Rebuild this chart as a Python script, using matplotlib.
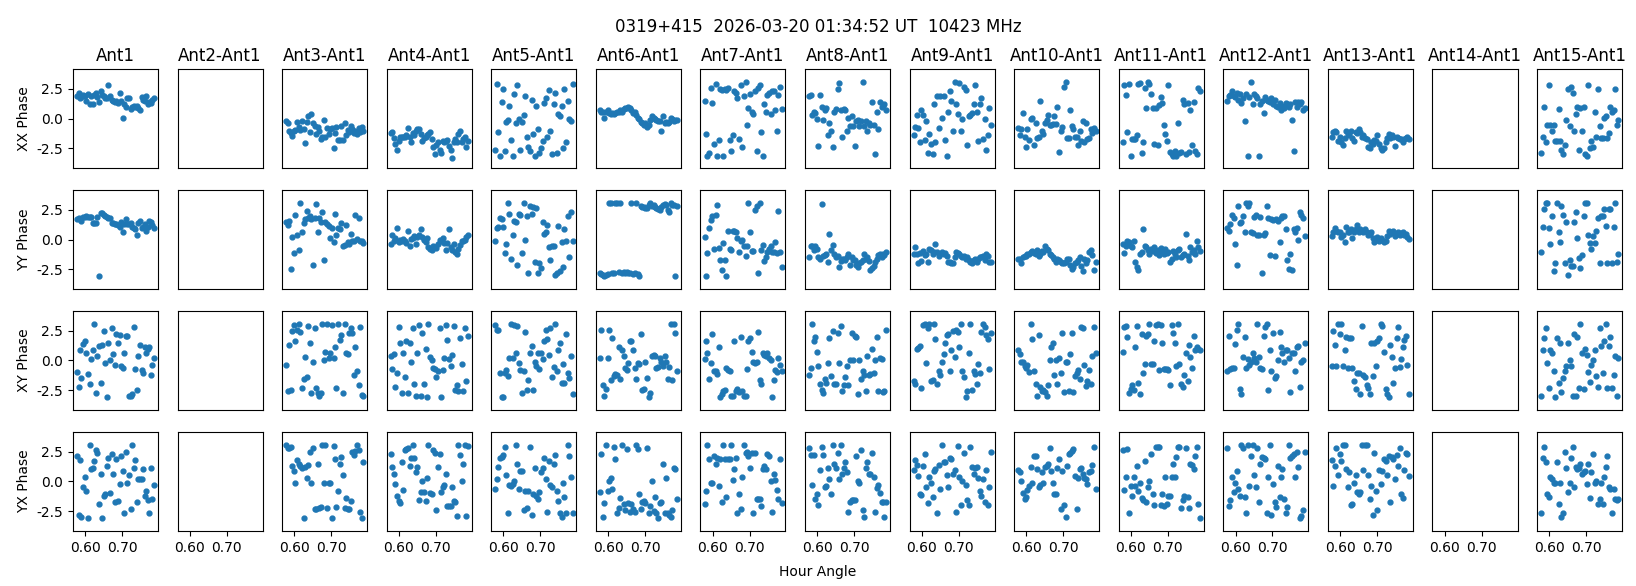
import matplotlib
matplotlib.use("Agg")
import matplotlib.pyplot as plt
from matplotlib.ticker import FormatStrFormatter

TITLE = "0319+415  2026-03-20 01:34:52 UT  10423 MHz"
antennas = list(range(1, 16))
pols = ["XX", "YY", "XY", "YX"]

# hour angle of each sample (same for all baselines)
hour_angle = [0.578, 0.582, 0.586, 0.590, 0.595, 0.599, 0.603, 0.608, 0.612, 0.616,
              0.620, 0.625, 0.629, 0.633, 0.637, 0.642, 0.646, 0.650, 0.655, 0.659,
              0.663, 0.667, 0.672, 0.676, 0.680, 0.684, 0.689, 0.693, 0.697, 0.701,
              0.706, 0.710, 0.714, 0.719, 0.723, 0.727, 0.731, 0.736, 0.740, 0.744,
              0.748, 0.753, 0.757, 0.761, 0.765, 0.770, 0.774, 0.778, 0.782, 0.787]

# phases (rad) per antenna, Ant2 and Ant14 have no data
xx_phase = {
    1: [1.9, 2.2, 1.7, 1.8, 2.0, 1.9, 1.5, 2.1, 1.2, 1.9, 1.2, 2.0, 2.2, 1.8, 1.4, 2.3, 2.0, 1.9, 1.7, 1.7,
        2.8, 1.9, 1.6, 1.5, 1.4, 1.5, 1.3, 2.2, 1.5, 0.1, 1.2, 1.0, 1.7, 1.7, 0.8, 1.0, 1.1, 1.0, 1.1, 0.9,
        0.75, 1.8, 1.6, 1.5, 1.9, 1.2, 1.4, 1.3, 1.6, 1.7],
    3: [-0.22, -0.39, -1.0, -1.2, -1.47, -1.06, -0.97, -0.28, -0.69, -0.97, -0.17, -0.86, -2.03, -0.28, 0.25,
        -1.1, 0.42, -0.36, -0.58, -1.33, -0.72, -1.0, -1.67, -1.56, -0.08, -1.5, -0.78, -1.28, -0.86, -0.78,
        -2.5, -1.2, -0.72, -1.83, -1.83, -0.58, -1.78, -0.36, -1.39, -0.92, -1.1, -0.6, -0.9, -1.2, -1.0,
        -1.3, -0.8, -1.1, -0.7, -1.0],
    4: [-1.2, -1.1, -1.6, -2.1, -2.6, -1.9, -1.5, -1.5, -1.5, -1.5, -1.4, -0.8, -1.5, -2.0, -1.2, -1.4, -1.0,
        -0.9, -0.9, -1.3, -1.9, -1.6, -1.5, -1.4, -1.3, -1.1, -1.7, -2.4, -3.0, -2.2, -2.0, -2.6, -2.9, -1.9,
        -2.0, -1.9, -1.8, -2.3, -2.6, -3.3, -2.0, -1.7, -2.0, -1.3, -1.0, -2.0, -1.7, -1.5, -2.4, -1.9],
    5: [-2.6, 2.9, -1.1, -3.1, 1.4, 2.5, -2.7, -0.3, -0.1, 1.1, -1.8, -3.1, 2.1, -0.4, 2.8, 0.0, -2.6, -0.3,
        0.3, 1.9, -1.5, -2.4, -2.7, 1.6, -1.3, -3.1, 1.1, -0.9, -2.9, -2.5, -1.9, 1.3, 1.7, -1.5, 2.4, -1.0,
        -3.0, 1.25, 2.2, -2.9, 0.4, 0.2, 1.1, -2.5, 2.5, -2.0, 1.5, 0.0, -0.2, 2.9],
    6: [0.7, 0.6, 0.6, 0.1, 0.6, 0.7, 0.5, 0.4, 0.5, 0.4, 0.5, 0.6, 0.6, 0.7, 0.6, 0.8, 0.9, 0.9, 1.0, 0.9,
        0.7, 0.5, 0.6, 0.3, 0.1, 0.0, -0.3, -0.4, -0.5, -0.4, -0.7, -0.5, -0.1, 0.2, 0.1, 0.0, -0.1, -0.2,
        -0.2, -1.0, 0.2, -0.4, -0.3, -0.4, -0.3, 0.1, 0.0, -0.2, -0.1, -0.1],
    7: [1.5, -1.3, -3.1, -2.9, 2.6, 1.3, -2.1, 2.9, -3.1, -1.8, 2.5, 2.4, -3.1, 2.5, 2.4, 2.6, -1.8, -2.7,
        -1.4, 2.3, 2.2, 1.7, -1.7, 2.8, -2.4, 1.9, 3.1, -0.5, 0.9, 2.1, 0.6, 0.4, 2.3, -2.7, 2.6, 2.8, -1.1,
        -3.1, 1.2, 0.6, 2.0, 2.2, 0.4, 2.3, 2.3, 0.7, -1.05, 2.0, 2.7, 0.8],
    8: [1.9, 2.0, 0.3, 0.6, 0.5, 0.0, -2.3, 2.0, 1.0, -0.1, 0.75, 0.9, -1.4, -0.4, -1.0, -2.4, 0.6, 0.8,
        2.5, 3.0, 0.7, -1.55, 0.8, 0.7, -1.05, 0.05, -0.6, 0.2, -0.6, -2.3, -0.2, -0.1, -0.6, -0.2, 3.05,
        -0.6, -0.2, -1.0, -0.4, -0.5, 1.4, -0.5, -3.0, 0.6, -0.9, 1.4, 1.0, 1.1, 1.2, 0.75],
    9: [-1.4, -0.7, 0.3, -0.8, -2.0, 0.75, 0.3, -1.8, -0.2, -2.9, -1.25, -2.1, -3.0, 1.25, -2.0, 1.9, -0.8,
        1.9, 0.1, 1.95, -1.8, -3.1, 0.6, 2.3, 1.5, -1.0, 3.1, 1.2, 0.4, 3.0, -1.0, 0.0, 2.7, 2.4, -2.2, 0.2,
        0.3, 0.5, 1.2, 2.8, 0.55, -1.9, 1.2, 1.7, -1.7, 0.0, -2.6, -1.4, 0.9, -0.5],
    10: [-0.8, -1.4, -0.9, 0.5, -1.5, -2.4, -0.9, -1.8, 0.0, 0.05, -2.2, -0.35, -1.65, -1.55, 1.45, -1.05,
         -1.3, -0.35, -0.1, 0.3, -0.5, -0.5, -0.45, 0.2, -0.45, 1.0, -2.8, -1.05, -0.7, 2.7, 3.1, -1.65,
         -1.6, 0.7, -0.6, -0.9, -1.55, -1.55, -2.2, -1.0, -1.9, -0.2, -1.95, -0.35, -1.7, -1.65, -0.9, -1.2,
         -0.8, -1.05],
    11: [-2.0, 2.8, 2.0, -1.1, 2.9, -3.1, -1.75, -1.75, -1.75, -1.4, 2.9, 3.0, -2.85, -2.0, 2.55, 0.9, 3.1,
         2.9, 2.1, 0.9, -2.1, 0.9, -2.2, 1.15, 1.8, 1.3, -0.5, -1.25, -1.9, 2.8, -2.8, -3.0, -3.1, -2.7,
         -3.1, -0.4, -2.9, -2.8, 1.6, 1.2, -2.95, 1.3, -2.8, 0.75, -2.2, 1.4, -2.7, -3.0, 2.6, 2.3],
    12: [1.5, 1.9, 2.0, 2.3, 1.95, 1.8, 2.2, 1.6, 2.1, 1.3, 1.7, -0.2, 2.1, -3.1, 1.85, 3.05, 1.25, 2.1,
         1.95, 1.7, -3.1, 1.2, 1.5, 0.5, 1.8, 1.6, 1.45, 1.4, 1.7, 1.2, 1.6, 1.1, 0.95, 1.3, 0.75, 1.1, 0.9,
         1.3, 1.2, 1.0, 1.2, -0.1, -2.7, 1.4, 0.95, 1.4, 1.2, 1.4, 0.75, 0.9],
    13: [-1.55, -1.1, -1.05, -1.1, -1.9, -1.5, -2.0, -2.2, -1.65, -1.05, -1.3, -1.4, -1.0, -1.6, -1.85,
         -1.1, -1.2, -0.85, -1.1, -1.5, -1.4, -1.6, -1.75, -2.4, -2.5, -2.0, -2.15, -1.8, -1.9, -1.4, -2.15,
         -2.5, -2.65, -2.45, -2.0, -1.65, -1.3, -1.6, -1.4, -1.55, -2.3, -1.55, -1.65, -1.75, -1.7, -2.0,
         -1.75, -1.65, -1.55, -1.75],
    15: [-2.85, -1.5, 0.95, -2.0, -0.5, 2.85, -0.5, -1.05, -0.5, -1.9, -1.9, 0.85, -1.9, -2.6, -3.0, -2.2,
         -0.15, 2.5, -0.65, 2.7, 2.2, -1.05, 0.4, 1.0, -2.65, 0.9, -1.05, 0.95, -3.0, -3.1, 2.85, -2.5, -1.9,
         -2.4, 0.6, -1.5, 2.5, -0.65, -1.6, -1.6, 0.1, 0.2, -1.6, -1.2, 1.0, 0.6, 0.75, 2.5, -0.55, -0.1],
}

yy_phase = {
    1: [1.7, 1.8, 1.7, 1.6, 1.9, 1.9, 2.0, 1.9, 1.9, 1.9, 1.4, 1.4, 1.4, 1.9, -3.1, 2.2, 2.2, 2.1, 2.0,
        1.9, 1.8, 1.8, 1.4, 1.4, 1.3, 1.3, 1.2, 1.1, 1.5, 0.6, 1.3, 1.7, 1.3, 1.3, 1.4, 1.1, 1.0, 0.9,
        0.35, 1.4, 1.6, 1.0, 1.1, 1.35, 0.75, 1.1, 1.6, 1.5, 1.2, 0.95],
    3: [1.5, 1.2, 1.6, -2.5, 0.2, -1.15, 2.1, 0.4, -0.85, 3.1, 0.65, 1.4, 1.7, 2.4, 1.8, 2.0, 1.7, -2.1,
        1.85, 3.0, 0.65, 1.85, 1.45, 2.3, -1.75, 1.5, 1.3, 1.15, 0.1, 1.0, -0.2, 2.15, 0.4, 0.95, 0.9, 1.4,
        -0.55, -0.45, 1.2, -0.2, -0.35, 0.5, -0.15, -0.15, 2.1, 0.05, 1.85, -0.1, -0.15, -0.3],
    4: [-0.35, 0.4, -0.1, 0.1, 1.0, -0.2, 0.0, -0.15, 0.05, -0.15, -0.25, 0.75, -0.5, 0.05, 0.1, 0.3, -0.4,
        0.2, 0.4, 0.85, 0.2, 0.0, -0.2, 0.1, -0.6, -0.8, -0.9, -0.5, -0.65, -0.7, -0.4, 0.0, -0.1, 0.1,
        -0.3, -0.9, -0.3, 0.85, -0.65, -0.9, -0.35, -1.05, -1.2, -0.8, -0.45, -0.1, -0.15, 0.0, 0.2, 0.35],
    5: [-0.1, 1.0, 1.05, 1.85, 1.7, 1.05, -1.15, -0.4, 3.1, 2.15, -1.65, 0.4, 1.6, 1.5, -2.1, 2.15, 2.1,
        -1.15, 3.1, 0.0, 2.0, -2.8, 2.8, 2.15, 2.75, -1.9, 2.7, -2.8, -2.0, -2.4, 1.45, 0.45, 0.65, 1.2,
        -0.6, -1.75, -0.5, -0.55, -3.0, -2.85, 1.15, -2.65, -0.2, -2.3, 0.9, -0.15, 1.95, -1.5, 2.35, -0.15],
    6: [-2.8, -2.9, -3.0, -3.05, -2.95, -2.9, 3.1, 3.05, -2.85, -2.8, 3.1, 3.1, -2.75, 3.1, -2.8, -2.75,
        -2.8, -2.75, -2.8, -2.85, 3.05, -2.9, -2.8, 3.1, -2.9, -3.05, 2.8, 2.75, 2.75, 2.7, 2.7, 2.9, 3.05,
        2.85, 2.9, 2.75, 2.7, 2.55, 2.5, 2.75, 2.9, 3.0, 2.9, 2.5, 2.3, 3.1, 2.95, 2.9, -3.1, 2.8],
    7: [0.2, -3.1, -1.15, 0.95, 1.65, 1.95, -0.8, 2.1, 2.9, -0.7, -1.7, -2.6, -0.3, -1.75, -3.1, 0.75, -0.8,
        -0.85, 0.75, 0.75, 0.65, 0.1, -1.05, -0.15, 0.0, -0.5, -1.4, -0.55, 3.1, 0.65, -0.95, -1.0, 2.5,
        2.8, -2.8, 3.1, -0.9, -0.45, -1.8, -1.5, -1.05, -0.8, -0.5, -1.05, -1.05, -0.2, -1.1, 2.4, -1.05,
        -2.3],
    8: [-1.5, -0.5, -0.55, -0.9, -0.5, -0.8, -1.5, -1.6, 3.0, -1.35, -1.3, -1.2, -1.9, 0.5, -0.9, -0.45,
        -1.2, -1.5, -1.4, -2.3, -1.8, -1.6, -1.65, -1.75, -1.5, -1.2, -2.1, -1.5, -1.7, -1.75, -2.1, -2.3,
        -2.0, -1.9, -1.75, -1.2, -1.6, -1.5, -1.8, -2.6, -2.4, -2.2, -1.9, -1.65, -1.3, -1.2, -1.5, -1.2,
        -1.3, -1.05],
    9: [-1.2, -0.65, -1.2, -2.0, -1.1, -1.8, -1.0, -1.3, -1.2, -1.9, -0.8, -0.9, -1.2, -1.05, -0.4, -1.05,
        -1.4, -1.2, -1.05, -1.2, -1.15, -1.35, -1.9, -1.9, -2.0, -2.0, -1.5, -1.05, -1.1, -1.2, -1.35, -1.5,
        -1.35, -1.6, -1.5, -1.75, -1.9, -2.0, -1.75, -1.6, -1.9, -1.6, -1.5, -1.5, -1.35, -1.7, -1.2, -1.4,
        -1.9, -1.85],
    10: [-1.65, -1.6, -2.0, -1.5, -1.4, -1.35, -1.2, -1.2, -1.05, -1.0, -1.1, -1.2, -0.9, -1.35, -1.2, -1.0,
         -1.05, -0.55, -0.8, -0.9, -1.2, -1.3, -1.5, -1.6, -1.85, -1.6, -1.7, -1.9, -2.0, -2.0, -1.85, -1.65,
         -1.6, -2.1, -2.45, -2.3, -2.0, -1.9, -1.75, -1.5, -2.2, -2.65, -1.6, -2.0, -1.75, -1.05, -0.9,
         -1.3, -2.6, -1.9],
    11: [-0.35, -1.1, -0.5, -0.1, -0.2, -0.5, -0.6, -0.1, -1.9, -2.3, -2.6, -1.2, -1.05, 0.85, -0.5, -0.65,
         -0.9, -1.2, -0.8, -1.0, -0.6, -1.1, -0.9, -1.3, -0.7, -1.0, -1.2, -0.8, -1.1, -1.05, -1.9, -1.6,
         -1.0, -1.2, -1.5, -0.9, -0.8, -1.5, -1.3, -1.2, 0.5, -1.4, -1.7, -0.65, -1.05, -0.9, -1.2, -0.1,
         -0.65, -1.0],
    12: [0.95, 0.75, 1.3, 2.05, 1.8, -0.35, -2.1, 2.8, 1.4, 1.45, 2.0, 0.65, 3.1, 2.8, 3.1, 0.65, 0.55, 1.9,
         2.1, 0.4, 0.35, 1.9, -2.8, 0.35, 0.55, 2.8, 1.8, -1.3, 1.7, 1.65, -1.4, 1.7, 1.6, -0.2, 1.8, 2.0,
         1.95, 0.9, -1.75, -2.45, -1.2, -2.6, 0.9, 0.65, 0.95, 0.0, 2.35, 2.05, 1.8, 0.3],
    13: [0.3, 0.6, 1.0, 0.75, 0.6, 0.65, 0.2, 0.4, -0.2, 1.1, 0.6, 0.65, 0.9, 0.1, 0.65, 0.9, 1.2, 0.65, 0.9,
         0.75, 0.6, 0.9, 0.65, 0.35, 0.45, 0.6, 0.1, -0.2, 0.0, 0.2, -0.15, 0.1, 0.0, -0.2, -0.1, 0.3, 0.75,
         0.5, 0.6, 0.75, 0.3, 0.5, 0.65, 0.4, 0.55, 0.6, 0.35, 0.5, 0.2, 0.05],
    15: [-1.05, 1.1, 2.6, 3.1, 3.1, 0.95, -0.35, 1.95, -2.65, -2.0, 3.1, 0.65, -0.2, 2.8, 2.1, -2.0, 1.45,
         -3.0, -1.75, -2.2, -2.2, 1.5, 2.3, 0.1, -1.55, -2.4, -1.3, 1.95, 3.1, 3.1, 0.4, -0.3, -0.8, 0.3,
         -0.3, 0.75, 1.8, -2.0, 2.0, 1.95, 2.6, 1.15, -2.0, 2.6, 2.6, -1.95, 1.1, 3.1, -1.9, -1.2],
}

xy_phase = {
    1: [-1.0, -2.2, 0.9, -1.5, 1.4, 1.6, 0.6, -1.15, -2.0, 0.1, 0.9, 3.1, -2.7, 0.4, 1.2, -1.9, 1.3, 2.5,
        -0.2, -3.05, 1.5, 0.0, 2.7, 0.55, -0.35, 2.2, 1.5, 2.15, -0.5, -0.65, 0.65, 2.05, 2.1, -2.95, -2.95,
        -2.85, 2.8, -0.7, -2.5, 0.4, 1.3, -0.8, -1.05, 1.15, 0.6, 1.0, 1.15, -1.2, -0.4, 0.2],
    3: [-0.4, -2.6, 1.3, -2.5, 2.5, 3.0, 1.6, 2.55, 3.05, 2.4, -2.3, -1.6, 0.3, -1.35, 2.9, 1.5, -2.7, -0.1,
        2.7, -2.3, -2.7, -3.0, -2.7, 3.1, 0.05, 0.75, 3.05, 0.2, 0.65, 2.95, 0.2, 1.15, -2.3, 3.1, 1.7,
        2.15, -2.7, 3.1, 0.6, 0.55, 2.35, 2.7, 2.3, -1.2, 1.1, -0.9, -2.1, 2.8, -2.9, -3.0],
    4: [0.35, -0.7, 0.55, -2.2, -1.05, 2.8, 1.5, -2.7, 0.6, -1.35, 1.6, -2.7, 1.45, -0.15, 2.75, -2.0,
        -2.95, 0.65, 2.95, -3.0, 2.3, -1.95, 1.0, -3.1, 3.1, 0.3, 0.0, -0.65, -0.7, -1.4, -0.85, 2.75, -3.1,
        -0.8, 0.2, 2.95, 1.7, 0.1, -0.5, 0.5, 2.9, -2.5, -2.1, -2.6, 1.85, -0.3, -2.6, 2.75, -1.75, 2.1],
    5: [3.0, 2.55, 2.6, -1.05, -3.1, -3.1, -1.05, -0.8, -1.3, 0.2, 3.1, 0.2, 3.0, 0.65, 2.9, -0.2, -0.8,
        -2.7, -0.85, 2.4, -2.45, -1.65, 0.6, 1.2, -2.45, -0.15, -0.5, 0.6, -0.7, 0.6, 0.1, 1.65, 2.6, 1.8,
        0.45, 2.7, -1.4, -0.55, 3.1, -0.9, 0.85, 1.5, -1.9, -0.3, -1.9, 2.2, -1.05, -1.5, 0.35, -2.85],
    6: [0.2, 2.55, -2.1, -2.95, -2.4, 0.2, 2.55, -1.65, 1.85, -1.3, -1.1, -1.2, 1.15, -1.55, 0.9, 0.4,
        -0.65, -0.8, -0.25, 1.6, 1.6, 0.9, -0.65, -1.6, -0.2, -0.3, 2.2, -2.5, -2.4, -0.15, -1.5, -3.1,
        -2.7, 0.35, 0.5, 0.35, -0.65, -0.55, 0.2, -0.15, -0.5, 0.35, -0.1, -1.6, -0.55, 3.1, -1.65, 3.1,
        2.3, -0.9],
    7: [0.1, 1.65, 0.65, -1.6, -0.2, 2.2, -0.9, -0.9, -1.1, 1.15, -3.1, -2.85, -2.6, -2.5, -0.65, -0.8,
        -0.9, -2.95, -3.0, 1.6, -2.6, -2.4, -2.65, 1.95, -2.6, -3.0, -2.95, -0.7, 1.65, 1.85, 0.75, -0.1,
        -0.2, -0.15, 2.4, -1.65, -2.0, 0.6, 0.5, 0.35, 0.65, 0.2, 0.05, -3.05, -1.65, -0.8, -1.0, 0.2,
        -0.35, -0.9],
    8: [-1.2, -0.65, 3.1, 1.6, 2.0, 0.75, -0.45, -2.0, -2.5, -2.7, -1.55, -1.9, -0.2, 1.85, -1.3, 2.5, -2.0,
        -2.0, 2.3, -0.2, 2.9, -2.6, -2.1, -1.4, -0.5, -2.1, 0.05, 2.3, 0.05, 2.05, 1.95, -2.8, 0.0, -1.55,
        -0.9, -1.25, -2.6, 0.35, -1.2, -1.1, 1.0, -1.05, 0.0, 1.95, -2.6, 0.2, 0.1, -2.65, -2.6, 2.6],
    9: [-1.75, -2.0, 0.95, 1.05, 1.2, -2.3, 2.95, 3.1, -0.2, 2.7, 3.1, -1.75, -1.65, 3.1, 1.8, -2.0, -0.9,
        -1.2, -0.1, 0.55, 1.5, 2.15, 2.2, -0.9, 0.9, 2.45, 0.3, 2.55, 2.4, 1.15, 3.1, -0.85, -1.4, -3.1,
        -2.6, 0.6, 3.1, -2.45, -0.9, -1.1, -1.95, -0.3, -1.05, 2.4, 3.1, 2.85, 2.15, 1.8, -0.7, 2.35],
    10: [0.9, 0.55, -0.1, -0.15, -0.45, -0.65, -0.35, -1.0, 3.1, 1.8, -0.9, -2.0, -3.0, 2.15, -2.2, -2.6,
         -2.5, -2.65, -3.0, -2.1, 0.05, 1.1, 1.5, -1.2, 0.0, -2.0, 0.2, -1.05, 2.3, -2.65, -0.1, -0.15,
         -2.6, 0.55, 2.3, -2.65, -1.3, -1.05, -0.8, -1.6, 2.8, 2.7, -0.4, -2.15, -1.75, -0.8, -2.0, 0.4,
         2.8, 0.6],
    11: [0.75, 2.8, 2.9, 2.0, -2.7, -2.4, -2.05, -2.5, 1.15, 2.9, -1.9, -2.85, 2.2, -1.05, -0.3, 2.05, 2.2,
         3.1, -0.3, -0.3, 1.6, 3.0, 3.1, -0.8, 3.0, 1.5, -0.7, -0.7, -0.7, -0.8, -2.05, 2.95, 2.35, 1.5,
         -0.5, 3.1, -0.3, -1.95, -2.2, -1.2, 0.65, -1.75, 1.3, 0.3, -0.6, 2.1, 0.9, 1.15, 1.0, 0.9],
    12: [-0.85, 2.1, -0.7, -0.65, -0.65, 1.4, 2.6, 3.1, -2.4, -2.8, 0.3, 2.0, -0.65, 0.1, -0.35, -0.15, 0.65,
         0.25, -0.15, 3.05, 0.3, -0.65, -0.7, 2.1, 2.8, 3.1, -2.5, 0.9, -0.9, 2.35, -1.5, -1.3, 0.0, 2.4,
         1.15, 0.6, -0.15, 0.9, 0.9, 0.2, -2.65, 0.65, 0.65, -0.9, 1.15, 1.2, -2.2, -0.1, 0.0, 1.5],
    13: [-0.45, 2.5, 1.3, -0.45, 3.1, 2.2, 3.1, -0.45, 0.9, 1.95, -0.65, 1.85, 1.85, -0.65, -1.75, -2.4,
         -1.05, -1.05, -2.85, 2.9, -1.2, -1.4, -2.1, -2.3, -2.85, 1.45, -1.3, 1.45, -0.45, 1.65, 1.85, 3.1,
         2.9, 0.75, -2.4, -2.8, -3.05, 1.3, 0.3, -1.9, -0.65, 1.85, 2.8, -0.55, 0.1, 1.15, 1.7, 2.1, -0.35,
         -2.8],
    15: [-3.0, 0.85, 1.85, 2.7, -0.2, -2.3, 0.85, 0.65, -0.85, -3.05, 1.85, -1.9, 1.5, -2.65, -1.5, -0.9,
         -0.45, 1.5, 0.05, -0.45, -2.95, 2.2, -3.0, 2.0, -2.3, 3.05, 0.65, -2.4, 0.95, 0.45, -1.0, -1.85,
         -0.35, 0.0, 0.9, -1.3, -2.2, 2.7, 1.2, -1.05, 1.6, 3.1, -2.3, 1.25, 2.0, -2.3, -1.2, 0.35, -3.0, 0.2],
}

yx_phase = {
    1: [2.1, -2.8, 1.8, -3.0, -0.5, 0.35, -0.8, -3.1, 3.1, 1.0, 1.1, 1.7, 2.6, 2.4, -1.9, 0.6, -3.05, -1.2,
        -1.05, 1.3, 2.0, -1.0, 2.3, 0.6, -1.75, 1.85, -1.65, -0.2, 2.15, 0.9, -2.7, 2.5, -0.1, 0.5, -2.3,
        3.1, 1.15, 1.8, -1.75, 0.2, 0.2, 0.2, 1.0, -1.2, -0.8, -1.55, -2.65, 1.1, -1.45, -0.3],
    3: [3.1, 2.8, 2.8, 2.9, 1.3, 0.85, -0.15, 1.8, 1.5, 1.3, 1.15, -3.1, 1.2, 0.3, 1.4, 2.5, -0.15, 2.8,
        -2.3, -2.3, 1.5, -2.2, -2.15, 3.1, -0.1, 3.05, -2.2, -0.15, -0.15, -3.1, 2.95, 1.85, -2.15, -0.85,
        1.5, 2.05, 0.5, -2.2, -1.4, -2.3, -2.3, -1.65, 2.5, 2.2, 2.55, 3.1, 2.6, -2.6, -3.1, 1.65],
    4: [2.3, 1.2, 0.65, -0.2, -1.2, -1.65, -1.8, 1.65, -0.7, 2.6, 2.7, 2.8, 1.3, 2.0, 3.1, 2.0, 0.75, 1.2,
        -1.55, -0.9, 0.0, -0.9, -1.65, 0.3, 3.05, -1.0, -1.05, 2.6, 2.4, -2.4, 1.2, 2.3, -0.9, -0.5, -0.3,
        0.65, -2.1, -2.1, -2.1, -0.5, -1.65, -1.75, -2.95, 3.1, 2.2, 0.0, 1.45, 3.1, -2.95, 2.95],
    5: [-0.65, 0.2, 1.2, 1.95, 2.05, 2.2, 2.9, 0.55, -2.7, -0.3, -0.35, -0.2, 0.0, 3.1, 1.5, -0.65, 0.9,
        0.85, -2.4, -0.8, -2.2, -0.8, 2.9, -2.8, -1.05, 1.1, -1.2, -1.5, -0.9, 0.75, 1.15, 2.0, 0.2, -2.6,
        1.7, -0.3, -0.45, 1.5, 2.2, -0.8, -1.65, -2.7, -3.0, -0.1, -1.3, -2.65, 3.1, 2.1, 0.35, -2.65],
    6: [-0.9, 2.3, -3.0, -1.85, 3.1, -0.85, 0.0, 0.3, -0.65, 2.9, 1.85, -2.7, -2.2, -1.4, 3.1, -1.9, -2.4,
        2.7, -1.85, -2.6, -1.9, -2.3, -2.6, 3.1, 2.7, -1.1, -2.3, -1.75, -1.65, -1.85, 2.8, -2.7, -2.1, 0.05,
        -2.5, -1.3, -2.7, -3.05, -1.85, -1.75, 1.5, -2.7, 0.3, -2.7, -2.8, -3.0, -2.4, 1.15, 1.0, -1.5],
    7: [-1.9, -0.85, 3.05, 1.85, -0.15, -0.1, 2.15, 1.5, 2.0, -0.35, 1.85, -1.75, 3.1, 1.85, -1.35, 1.85,
        1.85, 3.1, 0.1, 1.05, 2.0, -2.7, -1.1, -2.3, 0.35, 3.1, 2.4, 2.5, 2.15, 1.1, 2.35, -2.65, 2.35, -1.5,
        -1.5, -1.5, -2.05, 1.05, 1.3, 1.05, 2.3, 2.15, 0.0, -2.6, 0.65, 0.1, -0.7, -1.5, 1.85, -1.85],
    8: [2.8, 2.2, -0.3, 2.25, -1.5, -1.1, -2.0, 0.95, 2.9, 2.2, -0.5, -0.35, 1.1, 0.2, -1.05, 3.1, 1.5, 1.15,
        2.35, 0.2, 3.1, 0.6, 1.1, 1.65, 0.8, -2.6, -1.75, -1.55, -1.55, -1.6, 2.15, 0.0, -0.15, 2.6, -2.4,
        -3.0, 1.1, 1.65, 0.6, 0.6, 2.4, 0.4, -2.6, -0.6, -0.3, -1.0, -1.75, -1.75, -3.0, -1.75],
    9: [0.95, 1.8, 1.4, 0.45, -1.05, -1.15, 1.3, 2.33, -0.45, -1.8, 0.35, -0.15, -1.3, 0.9, 1.05, -2.7, 1.4,
        -0.65, 3.1, 1.6, 1.65, 0.55, -0.5, 2.0, 1.85, 0.65, 0.95, -2.6, 3.0, 0.4, -2.0, 0.0, 2.4, -0.3, -1.6,
        -1.95, 2.9, 1.2, 0.65, 1.15, 1.2, 0.3, -0.8, -1.2, 0.2, -1.75, 0.95, -2.0, -0.45, 2.5],
    10: [0.95, 0.75, 0.0, -1.0, -1.5, -1.3, -0.7, -0.35, 1.2, -0.1, 2.1, 2.15, 1.05, -0.45, -0.3, 0.75,
         -0.15, 1.2, 1.3, 1.45, 2.8, 0.9, -0.15, -1.05, -1.05, 1.15, 1.85, -2.3, 0.85, -1.95, -3.0, 1.3,
         2.3, 2.4, 2.55, 2.7, 0.45, -2.3, 0.25, 1.0, 1.15, 0.6, 0.25, 0.2, -0.2, 0.75, 0.9, 1.4, 2.9, -0.65],
    11: [2.6, -0.7, 0.35, 2.7, -2.7, -0.35, -1.2, 0.35, -0.35, 1.3, -0.8, -0.15, -1.4, -1.6, 1.7, -1.75,
         -0.45, 0.0, 2.3, -1.1, -1.95, 2.9, 2.9, 2.9, -2.0, -1.05, -2.1, 0.35, -1.9, -1.2, -1.2, 0.35, 1.5,
         0.35, 2.05, 2.9, 2.9, -2.2, -1.55, -1.2, 2.8, -1.35, -2.2, 1.5, 1.4, 1.05, 2.15, 2.9, -1.9, -3.1],
    12: [2.85, -2.05, -1.6, 0.4, -0.9, -0.1, 0.9, -0.65, -1.2, 3.05, 2.8, -1.3, -2.65, 3.1, -0.35, 2.15, 3.1,
         0.5, -0.45, 2.85, -1.7, 1.45, 2.05, 1.95, 1.85, -2.7, 0.35, 3.05, -2.8, -0.2, -1.7, -2.15, 1.3,
         -1.35, 0.4, 1.0, -1.5, -2.65, -2.15, 3.05, 2.0, 2.15, 2.3, 0.35, 2.5, 1.2, -3.1, -2.95, -2.45, 2.5],
    13: [1.8, -0.35, 1.3, 2.8, 0.55, 2.3, 1.7, 3.1, 3.05, 1.05, -0.45, 0.75, -2.0, -1.9, -0.1, 0.55, -0.9,
         -1.05, -0.9, 3.1, 0.95, 3.05, 3.1, 0.5, -1.5, -0.35, -2.8, 2.4, -0.85, -2.4, 0.95, -0.2, 0.9, 1.85,
         1.7, 0.5, 2.15, -1.75, 2.05, 1.85, 0.2, 2.2, 1.3, 2.8, -1.05, -1.4, 0.95, 2.4, 2.3, 0.45],
    15: [-2.7, 1.95, 2.9, 1.6, -1.05, -1.3, 0.4, 0.2, -0.1, -0.15, 1.65, -1.9, -0.15, -3.0, -2.7, 2.5, 1.15,
         -0.9, -0.15, 2.0, 2.9, -0.5, 1.2, 1.0, 1.1, 1.45, 0.65, 0.75, 0.9, -0.2, 1.5, -1.4, 0.75, 2.3, -0.1,
         0.0, -1.9, -1.5, -0.1, -1.9, 0.35, 1.2, 2.15, -0.5, -0.65, -2.65, -0.65, -1.5, -1.6, -1.5],
}


def main():
    rows = [xx_phase, yy_phase, xy_phase, yx_phase]
    fig, axes = plt.subplots(4, 15, figsize=(16.36, 5.86), sharex=True, sharey=True)
    fig.subplots_adjust(left=0.0446, right=0.9915, top=0.882, bottom=0.094,
                        wspace=0.23, hspace=0.22)

    for r, (pol, data) in enumerate(zip(pols, rows)):
        for c, ant in enumerate(antennas):
            ax = axes[r, c]
            if ant in data:
                ph = data[ant]
                ax.plot(hour_angle[:len(ph)], ph, '.', ms=7, color='#1f77b4')
            if r == 0:
                ax.set_title("Ant1" if ant == 1 else f"Ant{ant}-Ant1", fontsize=12)
            if c == 0:
                ax.set_ylabel(f"{pol} Phase")
            ax.tick_params(left=(c == 0), bottom=(r == 3))

    ax0 = axes[0, 0]
    ax0.set_ylim(-4.17, 4.17)
    ax0.set_xlim(0.567, 0.797)
    ax0.set_yticks([-2.5, 0.0, 2.5])
    ax0.set_xticks([0.6, 0.7])
    ax0.xaxis.set_major_formatter(FormatStrFormatter('%.2f'))
    ax0.yaxis.set_major_formatter(FormatStrFormatter('%.1f'))

    fig.suptitle(TITLE, fontsize=12, y=0.97)
    fig.supxlabel("Hour Angle", fontsize=10, y=0.012)
    fig.savefig("out.png", dpi=100)


if __name__ == "__main__":
    main()
